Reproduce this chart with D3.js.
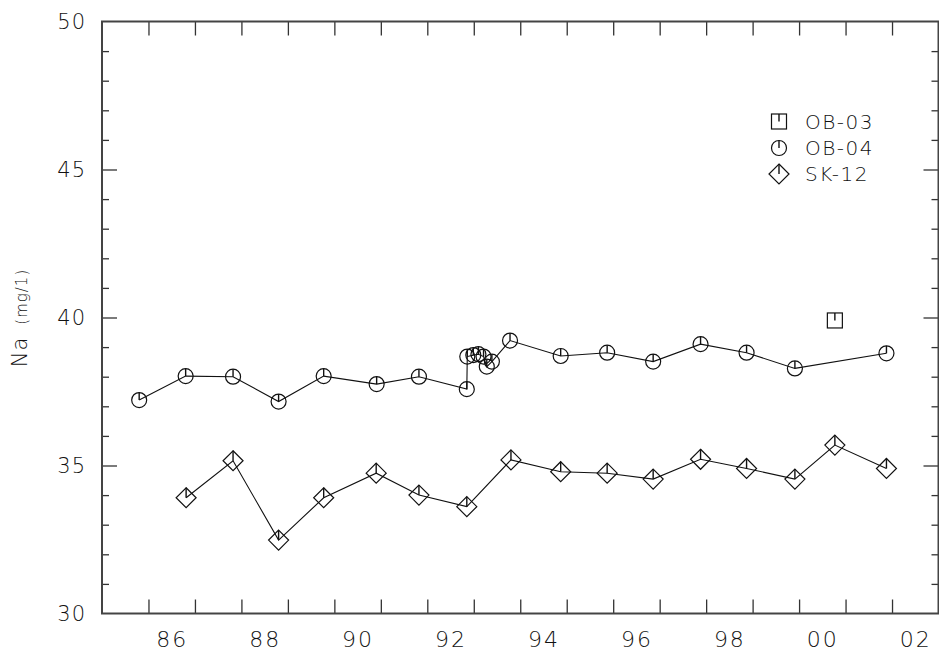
<!DOCTYPE html>
<html>
<head>
<meta charset="utf-8">
<script src="https://cdn.jsdelivr.net/npm/d3@7"></script>
<style>
  html, body { margin: 0; padding: 0; background: #fff; }
  svg { display: block; }
  text { font-family: "DejaVu Sans", "Liberation Sans", sans-serif; font-weight: 200; fill: #111; }
</style>
</head>
<body>
<svg id="chart" width="939" height="655"></svg>
<script>
// ---- data (decimal years, Na in mg/l) ----
const ob03Years  = [2000.77];
const ob03Values = [39.9];

const ob04Years  = [1985.80, 1986.80, 1987.82, 1988.80, 1989.77, 1990.91, 1991.82, 1992.85,
                    1992.86, 1992.99, 1993.10, 1993.21, 1993.28, 1993.39, 1993.78,
                    1994.87, 1995.87, 1996.86, 1997.88, 1998.87, 1999.91, 2001.88];
const ob04Values = [37.21, 38.02, 38.00, 37.16, 38.02, 37.75, 38.00, 37.58,
                    38.68, 38.73, 38.76, 38.68, 38.34, 38.51, 39.22,
                    38.70, 38.81, 38.51, 39.10, 38.81, 38.28, 38.79];

const sk12Years  = [1986.81, 1987.82, 1988.80, 1989.77, 1990.90, 1991.82, 1992.85, 1993.80,
                    1994.87, 1995.87, 1996.86, 1997.88, 1998.87, 1999.91, 2000.77, 2001.88];
const sk12Values = [33.91, 35.16, 32.48, 33.91, 34.74, 34.00, 33.61, 35.19,
                    34.79, 34.74, 34.54, 35.21, 34.90, 34.54, 35.69, 34.90];

const xTickYears  = [1986, 1988, 1990, 1992, 1994, 1996, 1998, 2000, 2002];
const xTickLabels = ["86", "88", "90", "92", "94", "96", "98", "00", "02"];
const yTickValues = [30, 35, 40, 45, 50];
const seriesNames = ["OB-03", "OB-04", "SK-12"];
const yTitle = "Na";
const yUnit = "(mg/1)";

// ---- layout ----
const svg = d3.select("#chart");
const L = 102, R = 938.5, T = 21.5, B = 613.5;
const x = d3.scaleLinear().domain([1985, 2003]).range([L, R]);
const y = d3.scaleLinear().domain([30, 50]).range([B, T]);

const zip = (xs, vs) => xs.map((d, i) => ({ x: d, v: vs[i] }));
const ob03 = zip(ob03Years, ob03Values);
const ob04 = zip(ob04Years, ob04Values);
const sk12 = zip(sk12Years, sk12Values);

// ---- ticks ----
const tickStyle = g => {
  g.select(".domain").remove();
  g.selectAll(".tick line").attr("stroke", "#333").attr("stroke-width", 1.3);
};
const minorY = d3.range(31, 50).filter(v => v % 5 !== 0);
const majorY = [35, 40, 45];
const years = d3.range(1986, 2003);

svg.append("g").attr("transform", `translate(${L},0)`)
  .call(d3.axisRight(y).tickValues(minorY).tickSize(7).tickFormat("")).call(tickStyle);
svg.append("g").attr("transform", `translate(${L},0)`)
  .call(d3.axisRight(y).tickValues(majorY).tickSize(15).tickFormat("")).call(tickStyle);
svg.append("g").attr("transform", `translate(${R},0)`)
  .call(d3.axisLeft(y).tickValues(minorY).tickSize(7).tickFormat("")).call(tickStyle);
svg.append("g").attr("transform", `translate(${R},0)`)
  .call(d3.axisLeft(y).tickValues(majorY).tickSize(15).tickFormat("")).call(tickStyle);
svg.append("g").attr("transform", `translate(0,${B})`)
  .call(d3.axisTop(x).tickValues(years).tickSize(14).tickFormat("")).call(tickStyle);
svg.append("g").attr("transform", `translate(0,${T})`)
  .call(d3.axisBottom(x).tickValues(years).tickSize(14).tickFormat("")).call(tickStyle);

// frame
svg.append("rect").attr("x", L).attr("y", T).attr("width", R - L).attr("height", B - T)
  .attr("fill", "none").attr("stroke", "#444").attr("stroke-width", 2);

// tick labels
const yl = svg.append("g").attr("transform", `translate(${L},0)`)
  .call(d3.axisLeft(y).tickValues(yTickValues).tickSize(0).tickPadding(16).tickFormat(d3.format("d")));
yl.select(".domain").remove();
yl.selectAll("text").attr("font-size", 21).attr("font-family", null).attr("fill", "#111")
  .attr("letter-spacing", 1);

const xl = svg.append("g").attr("transform", `translate(0,${B})`)
  .call(d3.axisBottom(x).tickValues(xTickYears.map(d => d + 0.5)).tickSize(0).tickPadding(18)
    .tickFormat((d, i) => xTickLabels[i]));
xl.select(".domain").remove();
xl.selectAll("text").attr("font-size", 22).attr("font-family", null).attr("fill", "#111")
  .attr("letter-spacing", 2);

// y title
const yt = svg.append("text").attr("transform", "translate(27,318) rotate(-90)")
  .attr("text-anchor", "middle");
yt.append("tspan").attr("font-size", 21).attr("letter-spacing", 1).text(yTitle);
yt.append("tspan").attr("font-size", 15).attr("dx", 12).attr("letter-spacing", 1).text(yUnit);

// ---- marker shapes ----
const RC = 7.5, SQ = 7.5, DM = 10;
function circleMark(g, cx, cy) {
  g.append("circle").attr("cx", cx).attr("cy", cy).attr("r", RC)
    .attr("fill", "none").attr("stroke", "#111").attr("stroke-width", 1.2);
  g.append("line").attr("x1", cx).attr("x2", cx).attr("y1", cy).attr("y2", cy - RC)
    .attr("stroke", "#111").attr("stroke-width", 1.4);
}
function squareMark(g, cx, cy) {
  g.append("rect").attr("x", cx - SQ).attr("y", cy - SQ).attr("width", 2 * SQ).attr("height", 2 * SQ)
    .attr("fill", "none").attr("stroke", "#111").attr("stroke-width", 1.2);
  g.append("line").attr("x1", cx).attr("x2", cx).attr("y1", cy).attr("y2", cy - SQ)
    .attr("stroke", "#111").attr("stroke-width", 1.4);
}
function diamondMark(g, cx, cy) {
  g.append("path").attr("d", `M${cx},${cy - DM}L${cx + DM},${cy}L${cx},${cy + DM}L${cx - DM},${cy}Z`)
    .attr("fill", "none").attr("stroke", "#111").attr("stroke-width", 1.2);
  g.append("line").attr("x1", cx).attr("x2", cx).attr("y1", cy).attr("y2", cy - DM)
    .attr("stroke", "#111").attr("stroke-width", 1.4);
}

// ---- lines ----
const line = d3.line().x(d => x(d.x)).y(d => y(d.v));
[ob04, sk12].forEach(s => {
  svg.append("path").datum(s).attr("d", line)
    .attr("fill", "none").attr("stroke", "#111").attr("stroke-width", 1.1);
});

// ---- markers ----
const mg = svg.append("g");
ob03.forEach(d => squareMark(mg, x(d.x), y(d.v)));
ob04.forEach(d => circleMark(mg, x(d.x), y(d.v)));
sk12.forEach(d => diamondMark(mg, x(d.x), y(d.v)));

// ---- legend ----
const lg = svg.append("g");
const marks = [squareMark, circleMark, diamondMark];
const legY = [121.5, 148, 174];
seriesNames.forEach((name, i) => {
  marks[i](lg, 779, legY[i]);
  lg.append("text").attr("x", 805).attr("y", legY[i]).attr("dy", "0.36em")
    .attr("font-size", 20).attr("letter-spacing", 1.5).text(name);
});
</script>
</body>
</html>
